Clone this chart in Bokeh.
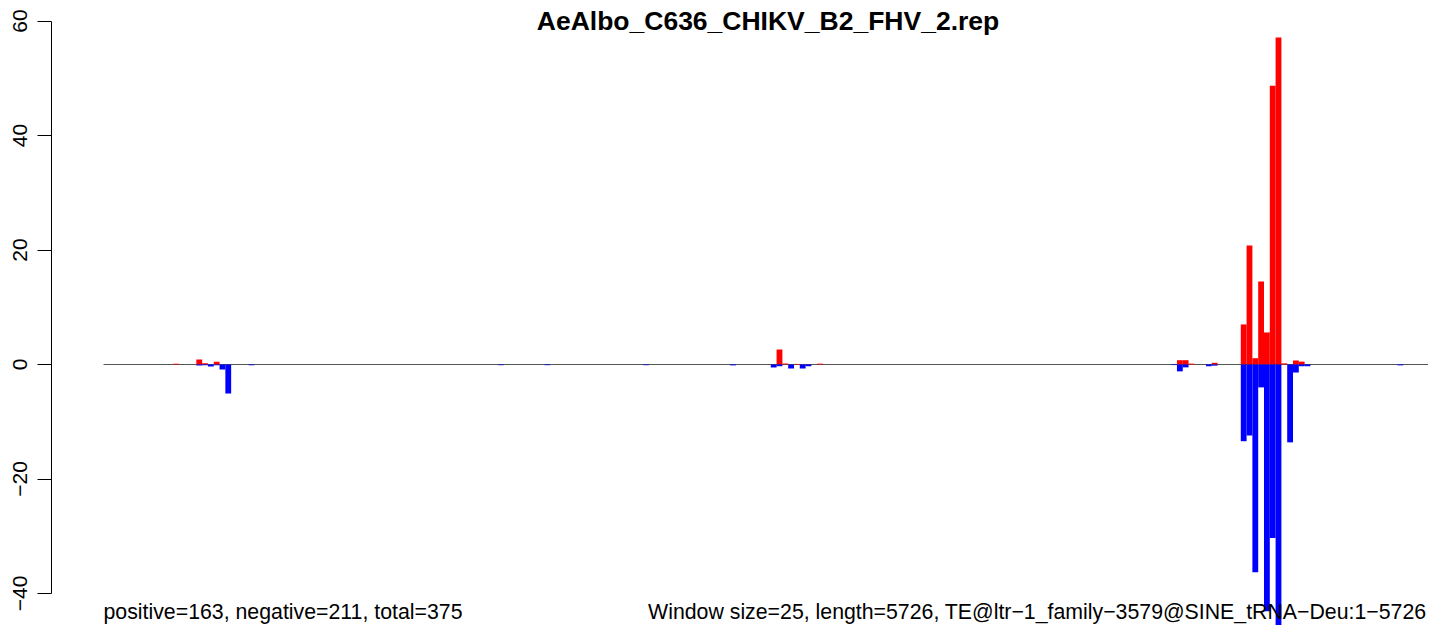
from bokeh.plotting import figure
from bokeh.models import Range1d, ColumnDataSource, FixedTicker, Label
from bokeh.embed import file_html
from bokeh.resources import INLINE

# ---- data ----
title_text = "AeAlbo_C636_CHIKV_B2_FHV_2.rep"
window = 25
seq_length = 5726
pos_idx = [12, 16, 17, 19, 116, 117, 119, 123, 185, 186, 187, 191,
           196, 197, 198, 199, 200, 201, 202, 203, 205, 206]
pos_val = [0.15, 0.87, 0.2, 0.5, 2.62, 0.17, 0.1, 0.15, 0.75, 0.75, 0.15, 0.3,
           7.0, 20.8, 1.1, 14.5, 5.6, 48.7, 57.1, 0.2, 0.7, 0.5]
neg_idx = [16, 17, 18, 19, 20, 21, 25, 68, 76, 93, 108, 115, 116, 118, 120, 121,
           184, 185, 186, 190, 191, 196, 197, 198, 199, 200, 201, 202, 204, 205,
           206, 207, 223]
neg_val = [-0.17, -0.15, -0.35, -0.15, -0.87, -5.07, -0.15, -0.12, -0.12, -0.12,
           -0.15, -0.52, -0.3, -0.7, -0.7, -0.3, -0.1, -1.2, -0.5, -0.3, -0.2,
           -13.4, -12.4, -36.3, -4.0, -43.1, -30.3, -49.0, -13.6, -1.4, -0.3,
           -0.3, -0.15]
y_ticks = [-40, -20, 0, 20, 40, 60]
left_note = "positive=163, negative=211, total=375"
right_note = "Window size=25, length=5726, TE@ltr\u22121_family\u22123579@SINE_tRNA\u2212Deu:1\u22125726"

# ---- layout (pixel geometry of the frame) ----
W, H = 1428, 625
frame_left = 51
k = (1432.0 - 103.0) / seq_length      # px per unit along x
xs = -(103.0 - frame_left) / k
xe = seq_length + (W - 1432.0) / k
ppu = 5.725                             # px per unit along y
zero_px = 364.0
y_top = zero_px / ppu
y_bot = (zero_px - H) / ppu

def yv(px):
    return (zero_px - px) / ppu

def xv(px):
    return (px - 103.0) / k

FONT = "Liberation Sans"

p = figure(width=W, height=H, output_backend="svg", toolbar_location=None,
           x_range=Range1d(xs, xe), y_range=Range1d(y_bot, y_top),
           x_axis_location=None, min_border_left=frame_left, min_border_right=0,
           min_border_top=0, min_border_bottom=0)
p.grid.visible = False
p.outline_line_color = None
p.background_fill_color = "white"
p.border_fill_color = "white"

# baseline
p.segment(x0=[0], y0=[0], x1=[seq_length], y1=[0], line_color="#555555", line_width=1)

pos_src = ColumnDataSource(dict(left=[i * window for i in pos_idx],
                                right=[(i + 1) * window for i in pos_idx],
                                top=pos_val, bottom=[0] * len(pos_val)))
neg_src = ColumnDataSource(dict(left=[i * window for i in neg_idx],
                                right=[(i + 1) * window for i in neg_idx],
                                top=[0] * len(neg_val), bottom=neg_val))
p.quad(left="left", right="right", top="top", bottom="bottom", source=pos_src,
       fill_color="#FF0000", line_color=None)
p.quad(left="left", right="right", top="top", bottom="bottom", source=neg_src,
       fill_color="#0000FF", line_color=None)

ax = p.yaxis[0]
ax.ticker = FixedTicker(ticks=y_ticks)
ax.bounds = (min(y_ticks), max(y_ticks))
ax.major_label_overrides = {t: (str(t).replace("-", "\u2212")) for t in y_ticks}
ax.major_label_orientation = "vertical"
ax.major_label_text_font = FONT
ax.major_label_text_font_size = "21px"
ax.major_label_text_color = "black"
ax.major_label_standoff = 11
ax.major_tick_out = 14
ax.major_tick_in = 0
ax.minor_tick_out = 0
ax.minor_tick_in = 0
ax.axis_line_color = "black"
ax.major_tick_line_color = "black"

p.add_layout(Label(x=seq_length / 2, y=yv(20), text=title_text,
                   text_align="center", text_baseline="alphabetic",
                   text_font=FONT, text_font_style="bold",
                   text_font_size="26.5px", text_color="black"))
p.add_layout(Label(x=0, y=yv(611), text=left_note,
                   text_align="left", text_baseline="alphabetic",
                   text_font=FONT, text_font_size="21.3px",
                   text_color="black"))
p.add_layout(Label(x=xv(1426), y=yv(611), text=right_note,
                   text_align="right", text_baseline="alphabetic",
                   text_font=FONT, text_font_size="21.3px",
                   text_color="black"))

open("out.html", "w").write(file_html(p, INLINE))
